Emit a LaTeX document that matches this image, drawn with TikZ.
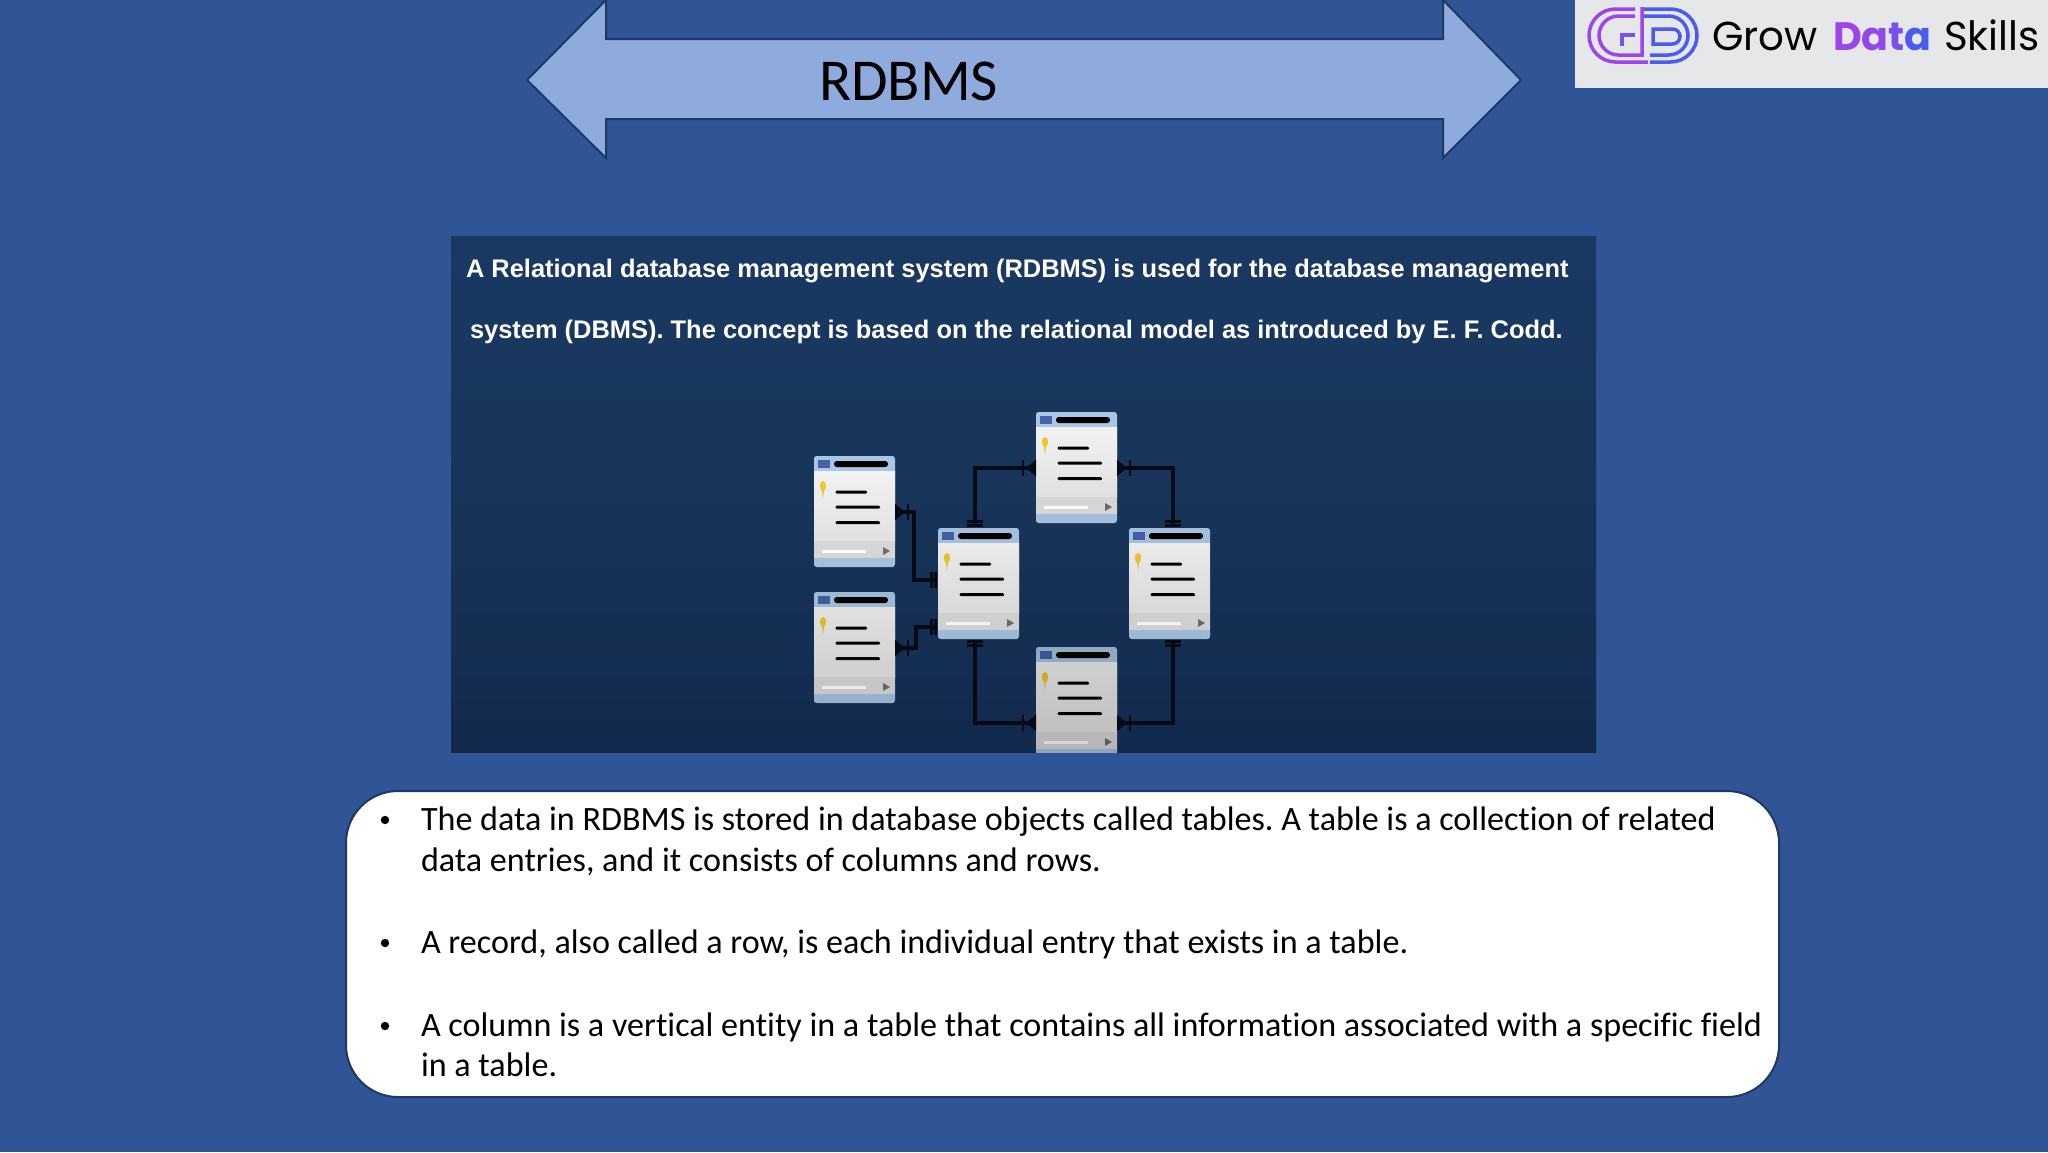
\documentclass[tikz,border=0pt]{standalone}
\usepackage{fontspec}
\setmainfont[Ligatures=NoCommon]{Carlito}
\newfontfamily\panelfont{Liberation Sans}
\newfontfamily\logofont{Poppins}
\usetikzlibrary{arrows.meta,calc}
\definecolor{pagebg}{HTML}{2F5597}
\definecolor{arrowfill}{HTML}{8FAADC}
\definecolor{arrowline}{HTML}{1F3864}
\definecolor{paneltop}{HTML}{1A3963}
\definecolor{panelmid}{HTML}{173559}
\definecolor{panelbot}{HTML}{13294E}
\definecolor{tblblue}{HTML}{A9C6E4}
\definecolor{tblfoot}{HTML}{A3BFDC}
\definecolor{tblicon}{HTML}{4463A8}
\definecolor{logobg}{HTML}{E6E7E8}
\definecolor{keyyellow}{HTML}{EFC62E}
\definecolor{connblack}{HTML}{050A14}
\definecolor{lpa}{HTML}{9B45EA}
\definecolor{lpb}{HTML}{7A50EC}
\definecolor{lpc}{HTML}{4A5CF0}
\tikzset{
  x=0.5pt,y=-0.5pt,
  pxfont/.style={inner sep=0pt,outer sep=0pt,anchor=base west},
  bulletline/.style={pxfont,font=\fontsize{17.05}{20}\selectfont\frenchspacing,text=black},
  paneltext/.style={pxfont,font=\panelfont\bfseries\fontsize{12.72}{16}\selectfont,text=white},
  logotext/.style={pxfont,font=\logofont\fontsize{20.2}{25}\selectfont},
  tablebox/.style={rectangle,minimum width=40.5pt,minimum height=55.5pt,inner sep=0pt,outer sep=0pt,anchor=north west},
  conn/.style={draw=connblack,line width=1.7pt,line join=miter,
    {Triangle[reversed,width=8pt,length=5pt]Bar[width=8pt,line width=1.2pt,sep=1pt]}-{Bar[width=8pt,line width=1.5pt,sep=0.6pt]Bar[width=8pt,line width=1.5pt,sep=0.5pt]}},
  logostroke/.style={line width=1.75pt,line cap=butt},
}
\newcommand{\dbtable}[5]{% name, x, y, darkness, unused
  \node[tablebox] (#1) at (#2,#3) {};
  \begin{scope}[shift={(#2,#3)}]
    \fill[rounded corners=1.5pt,tblfoot] (0,0) rectangle (81,111);
    \begin{scope}
      \clip[rounded corners=1.5pt] (0,0) rectangle (81,111);
      \fill[tblblue] (0,0) rectangle (81,15);
      \shade[top color=white!90!gray,bottom color=white!76!gray] (0,15) rectangle (81,85);
      \fill[white!68!gray] (0,85) rectangle (81,102);
      \fill[tblfoot] (0,102) rectangle (81,111);
    \end{scope}
    \fill[tblicon] (4,4) rectangle (16,11.5);
    \fill[black,rounded corners=1.4pt] (20,5) rectangle (74,11);
    \fill[keyyellow] (9,30) ellipse [x radius=3.2,y radius=5];
    \fill[keyyellow] (7.6,32) -- (10.4,32) -- (9,43) -- cycle;
    \fill[black,rounded corners=0.6pt] (21.5,34.7) rectangle (53,37.7);
    \fill[black,rounded corners=0.6pt] (21.5,49.7) rectangle (66,52.7);
    \fill[black,rounded corners=0.6pt] (21.5,65.2) rectangle (66,68.2);
    \fill[white!96!gray] (8,93.5) rectangle (52,96.5);
    \fill[gray!85!black] (69,91) -- (76,95) -- (69,99) -- cycle;
    \fill[black,opacity=#4,rounded corners=1.5pt] (0,0) rectangle (81,111);
  \end{scope}
}
\begin{document}
\begin{tikzpicture}
\useasboundingbox (0,0) rectangle (2048,1152);
\fill[pagebg] (0,0) rectangle (2048,1152);

% title arrow
\begin{scope}
\clip (0,0) rectangle (2048,1152);
\draw[draw=arrowline,fill=arrowfill,line width=1pt,line join=miter]
  (527,80) -- (606,0) -- (606,39) -- (1443,39) -- (1443,0) -- (1521,80)
  -- (1443,158) -- (1443,119) -- (606,119) -- (606,158) -- cycle;
\end{scope}
\node[pxfont,font=\fontsize{29.7}{34}\selectfont,text=black] (title) at (819,100) {RDBMS};

% logo
\fill[logobg] (1575,0) rectangle (2048,88);
\draw[logostroke,lpa] (1635,9) -- (1615.5,9) arc[start angle=-90,end angle=-270,radius=26.5] -- (1648,62);
\draw[logostroke,lpa] (1635,16) -- (1618.5,16) arc[start angle=-90,end angle=-270,radius=19.5] -- (1642,55) -- (1642,7);
\draw[logostroke,lpb] (1622,46) -- (1622,35) -- (1635,35);
\draw[logostroke,lpc] (1644,9) -- (1670.5,9) arc[start angle=-90,end angle=90,radius=26.5] -- (1650,62);
\draw[logostroke,lpc] (1644,16) -- (1668.5,16) arc[start angle=-90,end angle=90,radius=19.5] -- (1650,55);
\draw[logostroke,lpc] (1653,29) -- (1672.5,29) arc[start angle=-90,end angle=90,radius=7.5] -- (1653,44) -- cycle;
\node[logotext,text=black] (lgrow) at (1712,50) {Grow};
\node[logotext,font=\logofont\bfseries\fontsize{19.8}{25}\selectfont] (ldata) at (1833,50)
  {\textcolor{lpa}{D}\textcolor{lpa!70!lpb}{a}\textcolor{lpb}{t}\textcolor{lpc}{a}};
\node[logotext,text=black] (lskills) at (1944,50) {Skills};

% panel
\shade[top color=paneltop,bottom color=panelbot,middle color=panelmid] (451,236) rectangle (1596,752);
\node[paneltext] (pl1) at (466,277) {A Relational database management system (RDBMS) is used for the database management};
\node[paneltext] (pl2) at (470,338) {system (DBMS). The concept is based on the relational model as introduced by E. F. Codd.};

\begin{scope}
\clip (451,236) rectangle (1596,752);
\dbtable{tA}{814}{456}{0}{}
\dbtable{tB}{814}{592}{0.07}{}
\dbtable{tC}{938}{528}{0.03}{}
\dbtable{tD}{1036}{412}{0}{}
\dbtable{tE}{1129}{528}{0.03}{}
\dbtable{tF}{1036}{647}{0.14}{}
\end{scope}

\coordinate (j1) at (914,512);
\coordinate (j2) at (914,580);
\draw[conn] (tA.east |- j1) -- (j1) -- (j2) -- (j2 -| tC.west);
\coordinate (j3) at (916,648);
\coordinate (j4) at (916,627);
\draw[conn] (tB.east |- j3) -- (j3) -- (j4) -- (j4 -| tC.west);
\coordinate (j5) at (975,468);
\draw[conn] (tD.west |- j5) -- (j5) -- (j5 |- tC.north);
\coordinate (j6) at (1173,468);
\draw[conn] (tD.east |- j6) -- (j6) -- (j6 |- tE.north);
\coordinate (j7) at (975,723);
\draw[conn] (tF.west |- j7) -- (j7) -- (j7 |- tC.south);
\coordinate (j8) at (1173,723);
\draw[conn] (tF.east |- j8) -- (j8) -- (j8 |- tE.south);

% bullets box
\draw[fill=white,draw=arrowline,line width=1pt,rounded corners=26pt] (346,791) rectangle (1779,1097);
\foreach \n/\y in {a/830,b/953,c/1036}{
  \fill[black] (385,\y-10) circle[radius=4.2];
}
\node[bulletline] (b1) at (421,830) {The data in RDBMS is stored in database objects called tables. A table is a collection of related};
\node[bulletline] (b2) at (421,871) {data entries, and it consists of columns and rows.};
\node[bulletline] (b3) at (421,953) {A record, also called a row, is each individual entry that exists in a table.};
\node[bulletline] (b4) at (421,1036) {A column is a vertical entity in a table that contains all information associated with a specific field};
\node[bulletline] (b5) at (421,1076) {in a table.};
\end{tikzpicture}
\end{document}
